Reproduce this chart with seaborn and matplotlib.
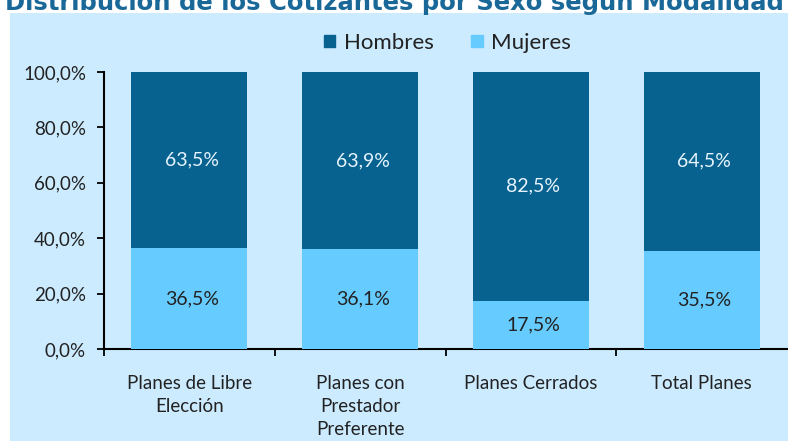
import numpy as np
import pandas as pd
import seaborn as sns
import matplotlib.pyplot as plt
from matplotlib.patches import Rectangle, Patch

# Data
categorias = ["Planes de Libre\nElección", "Planes con\nPrestador\nPreferente",
              "Planes Cerrados", "Total Planes"]
hombres = [63.5, 63.9, 82.5, 64.5]
mujeres = [36.5, 36.1, 17.5, 35.5]
yticks = [0, 20, 40, 60, 80, 100]

c_hom = "#08628F"
c_muj = "#66CCFF"
c_bg = "#CCEBFF"

sns.set_theme(style="white")
plt.rcParams['font.family'] = ['Lato', 'DejaVu Sans']

df = pd.DataFrame({"cat": categorias, "hombres": hombres, "mujeres": mujeres})
df["total"] = df["hombres"] + df["mujeres"]

fig = plt.figure(figsize=(7.88, 4.41), dpi=100)
fig.patch.set_facecolor("white")
fig.patches.append(Rectangle((10 / 788, 0), 1, (441 - 13) / 441,
                             transform=fig.transFigure, facecolor=c_bg,
                             edgecolor="none", zorder=-5))
fig.text(0.5, (441 - 10) / 441, "Distribución de los Cotizantes por Sexo según Modalidad",
         ha="center", va="baseline", fontsize=17.5, fontweight="bold", color="#1A6898",
         family="DejaVu Sans")

ax = fig.add_axes([104 / 788, (441 - 349) / 441, 683 / 788, 277 / 441])
ax.set_facecolor("none")
ax.set_zorder(2)

sns.barplot(data=df, x="cat", y="total", color=c_hom, width=0.68, ax=ax,
            saturation=1, linewidth=0, zorder=2)
sns.barplot(data=df, x="cat", y="mujeres", color=c_muj, width=0.68, ax=ax,
            saturation=1, linewidth=0, zorder=3)

for i in range(len(categorias)):
    ax.text(i + 0.015, mujeres[i] + hombres[i] / 2, f"{hombres[i]:.1f}%".replace(".", ","),
            ha="center", va="center", fontsize=14, color="#E6F4FF", zorder=4)
    ax.text(i + 0.015, mujeres[i] / 2, f"{mujeres[i]:.1f}%".replace(".", ","),
            ha="center", va="center", fontsize=14, color="#222222", zorder=4)

ax.set_xlim(-0.5, 3.5)
ax.set_ylim(0, 100)
ax.set_yticks(yticks)
ax.set_yticklabels([f"{v:.1f}%".replace(".", ",") for v in yticks])
ax.set_xlabel("")
ax.set_ylabel("")
ax.set_xticks(range(len(categorias)))
ax.set_xticklabels(categorias, linespacing=1.4)
ax.set_xticks(np.arange(-0.5, 3.5, 1), minor=True)
ax.tick_params(axis="x", which="major", length=0, pad=19, labelsize=13.5, labelcolor="#222222")
ax.tick_params(axis="x", which="minor", length=5, width=1.3, color="black", direction="out", bottom=True)
ax.tick_params(axis="y", length=5, width=1.3, color="black", direction="out", left=True,
               labelsize=13.5, labelcolor="#222222", pad=8)
for s in ["top", "right"]:
    ax.spines[s].set_visible(False)
for s in ["left", "bottom"]:
    ax.spines[s].set_color("black")
    ax.spines[s].set_linewidth(1.5)

handles = [Patch(color=c_hom, label="Hombres"), Patch(color=c_muj, label="Mujeres")]
fig.legend(handles=handles, loc="center", bbox_to_anchor=(0.568, (441 - 43) / 441), ncol=2,
           frameon=False, fontsize=16, handlelength=0.5, handleheight=0.5,
           handletextpad=0.4, columnspacing=1.7, labelcolor="#222222")

fig.savefig("out.png", dpi=100)
